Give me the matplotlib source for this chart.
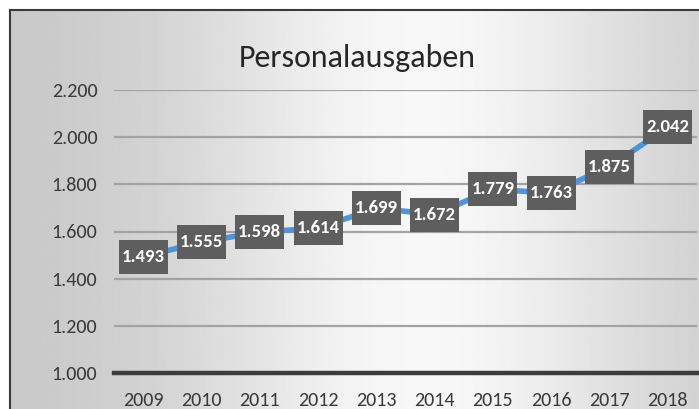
import matplotlib
matplotlib.use("Agg")
import matplotlib.pyplot as plt
import matplotlib.patches as mpatches
import matplotlib.transforms as mtransforms
import numpy as np

years = ["2009", "2010", "2011", "2012", "2013", "2014", "2015", "2016", "2017", "2018"]
values = [1493, 1555, 1598, 1614, 1699, 1672, 1779, 1763, 1875, 2042]
yticks = [1000, 1200, 1400, 1600, 1800, 2000, 2200]
ytick_labels = ["1.000", "1.200", "1.400", "1.600", "1.800", "2.000", "2.200"]
title = "Personalausgaben"

FONT = ["Carlito", "DejaVu Sans"]

W, H = 699, 409
fig = plt.figure(figsize=(W / 100, H / 100), dpi=100)
fig.patch.set_facecolor("white")

# background panel with horizontal gradient
bg = fig.add_axes([10 / W, 0, 1 - 10 / W, 1 - 10 / H])
xs = np.linspace(0, 1, 400)
prof = 0.78 + 0.19 * np.exp(-((xs - 0.6) / 0.34) ** 2)
prof = np.clip(prof, 0, 0.975)
grad = np.tile(prof, (50, 1))
bg.imshow(grad, cmap="gray", vmin=0, vmax=1, aspect="auto", extent=[0, 1, 0, 1])
bg.set_xlim(0, 1)
bg.set_ylim(0, 1)
bg.set_xticks([])
bg.set_yticks([])
for s in ["bottom", "right"]:
    bg.spines[s].set_visible(False)
for s in ["top", "left"]:
    bg.spines[s].set_color("#3a3a3a")
    bg.spines[s].set_linewidth(1.5)

ax = fig.add_axes([114 / W, (H - 373) / H, (697 - 114) / W, (373 - 90) / H])
ax.patch.set_alpha(0)
x = np.arange(len(years))
ax.set_xlim(-0.5, len(years) - 0.5)
ax.set_ylim(1000, 2200)
ax.set_yticks(yticks)
ax.set_yticklabels(ytick_labels)
ax.set_xticks(x)
ax.set_xticklabels(years)
for s in ax.spines.values():
    s.set_visible(False)
ax.tick_params(length=0)
ax.tick_params(axis="y", pad=12, labelsize=14.5, labelcolor="#3a3a3a")
ax.tick_params(axis="x", pad=14, labelsize=14.5, labelcolor="#3a3a3a")
for lab in ax.get_xticklabels() + ax.get_yticklabels():
    lab.set_family(FONT)

for yt in yticks[1:]:
    ax.axhline(yt, color="#a3a3a3", lw=1.6, zorder=1)
ax.axhline(1000, color="#3c3c3c", lw=3.2, zorder=2, clip_on=False)

ax.plot(x, values, color="#4f94d8", lw=4, zorder=3, solid_capstyle="round")

bw, bh = 0.49, 0.34  # box size in inches
for xi, v in zip(x, values):
    tr = fig.dpi_scale_trans + mtransforms.ScaledTranslation(xi, v, ax.transData)
    rect = mpatches.Rectangle((-bw / 2, -bh / 2), bw, bh, transform=tr,
                              facecolor="#5e5e5e", edgecolor="none", zorder=4)
    ax.add_patch(rect)
    ax.text(xi, v, f"{v / 1000:.3f}", ha="center", va="center", color="white",
            fontsize=13.5, fontweight="bold", family=FONT, zorder=5)

fig.text(357 / W, 1 - 58 / H, title, ha="center", va="center", fontsize=23,
         color="#262626", family=FONT)

fig.savefig("out.png", dpi=100)
